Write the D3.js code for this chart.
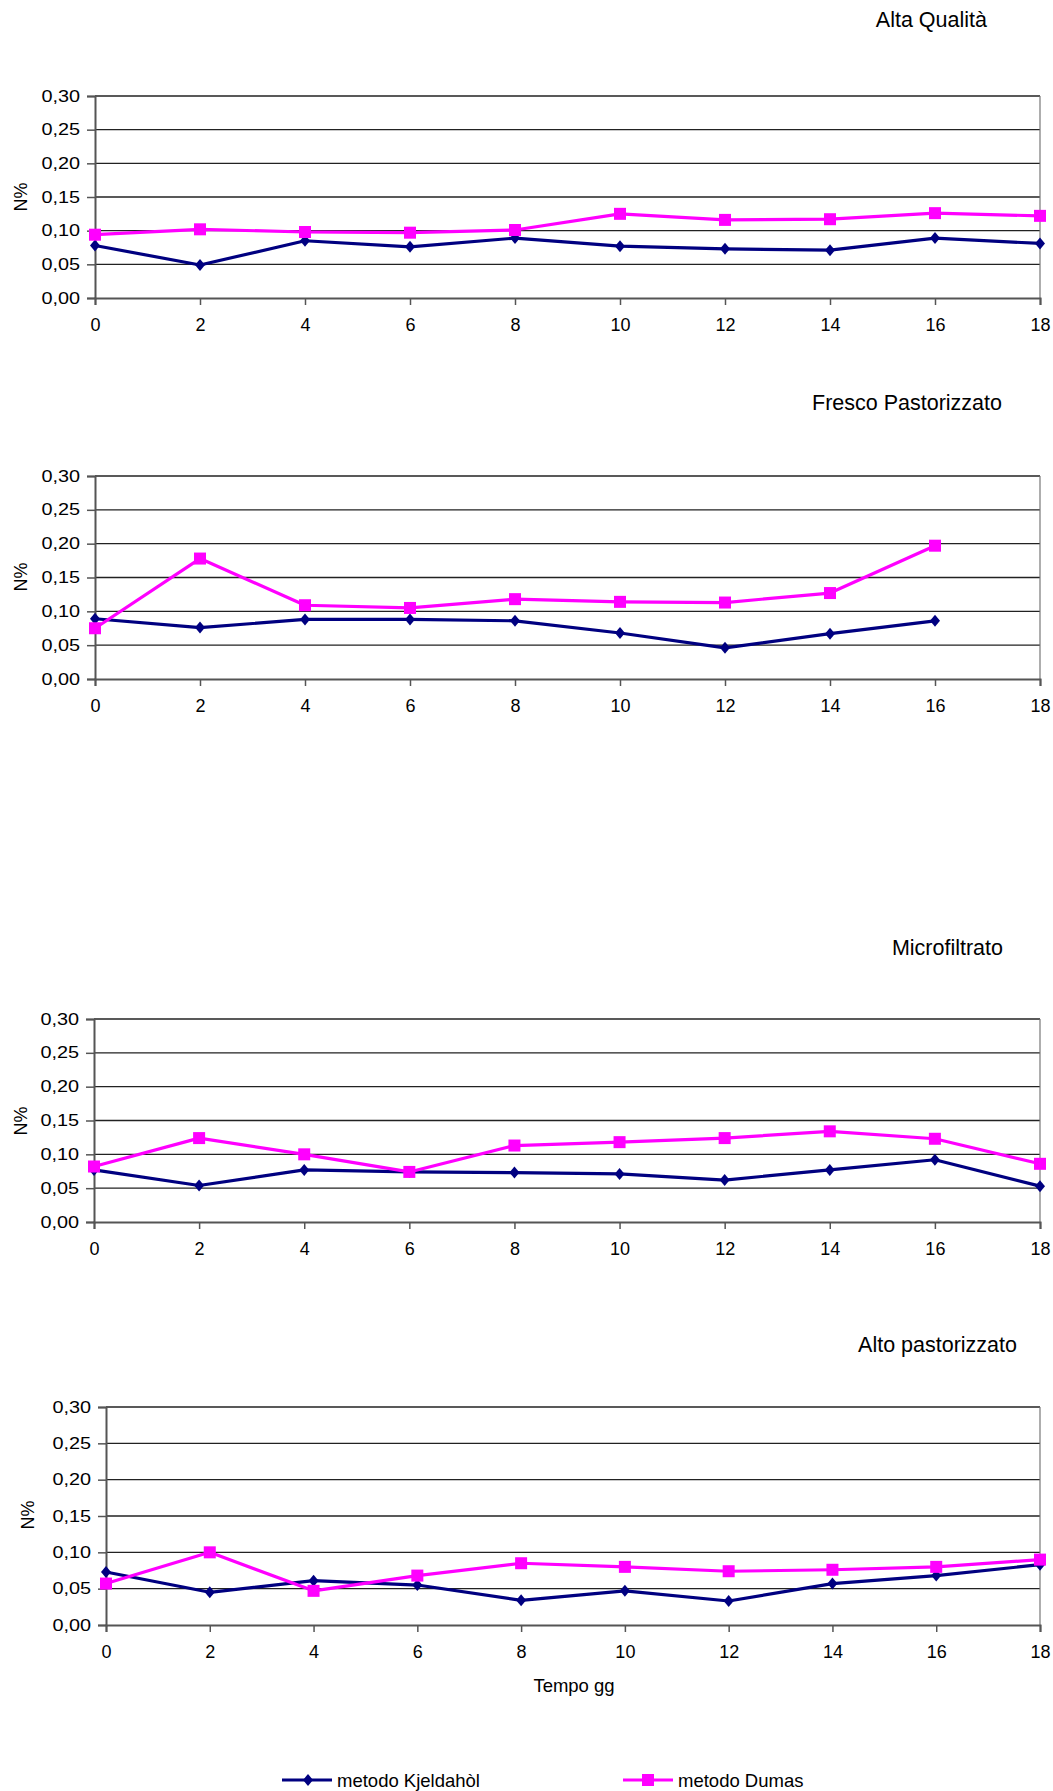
<!DOCTYPE html>
<html>
<head>
<meta charset="utf-8">
<script src="https://cdn.jsdelivr.net/npm/d3@7"></script>
<style>
  html, body { margin: 0; padding: 0; background: #fff; }
  svg { display: block; font-family: "Liberation Sans", Arial, sans-serif; }
</style>
</head>
<body>
<svg id="chart" width="1053" height="1791"></svg>
<script>
// Sampling days (Tempo gg)
const days = [0, 2, 4, 6, 8, 10, 12, 14, 16, 18];
const yTicks = [0, 0.05, 0.10, 0.15, 0.20, 0.25, 0.30];
const xTicks = [0, 2, 4, 6, 8, 10, 12, 14, 16, 18];

// Panel titles (milk types)
const titles = ["Alta Qualità", "Fresco Pastorizzato", "Microfiltrato", "Alto pastorizzato"];

// N% by Kjeldahl method, one array per milk type (null = not measured)
const kjeldahlAlta      = [0.078, 0.049, 0.085, 0.076, 0.089, 0.077, 0.073, 0.071, 0.089, 0.081];
const kjeldahlFresco    = [0.089, 0.076, 0.088, 0.088, 0.086, 0.068, 0.046, 0.067, 0.086, null];
const kjeldahlMicro     = [0.077, 0.054, 0.077, 0.074, 0.073, 0.071, 0.062, 0.077, 0.092, 0.053];
const kjeldahlAltoPast  = [0.073, 0.045, 0.061, 0.055, 0.034, 0.047, 0.033, 0.057, 0.068, 0.083];

// N% by Dumas method
const dumasAlta     = [0.094, 0.102, 0.098, 0.097, 0.101, 0.125, 0.116, 0.117, 0.126, 0.122];
const dumasFresco   = [0.075, 0.178, 0.109, 0.105, 0.118, 0.114, 0.113, 0.127, 0.197, null];
const dumasMicro    = [0.082, 0.124, 0.100, 0.074, 0.113, 0.118, 0.124, 0.134, 0.123, 0.086];
const dumasAltoPast = [0.057, 0.100, 0.047, 0.068, 0.085, 0.080, 0.074, 0.076, 0.080, 0.090];

const seriesNames = ["metodo Kjeldahòl", "metodo Dumas"];
const kjeldahlSets = [kjeldahlAlta, kjeldahlFresco, kjeldahlMicro, kjeldahlAltoPast];
const dumasSets = [dumasAlta, dumasFresco, dumasMicro, dumasAltoPast];

// Panel geometry
const layout = [
  { left: 95,  right: 1040, top: 96,   bottom: 298, titleRight: 987,  titleY: 27,   labelY: 197 },
  { left: 95,  right: 1040, top: 476,  bottom: 679, titleRight: 1002, titleY: 410,  labelY: 577 },
  { left: 94,  right: 1040, top: 1019, bottom: 1222, titleRight: 1003, titleY: 955, labelY: 1121 },
  { left: 106, right: 1040, top: 1407, bottom: 1625, titleRight: 1017, titleY: 1352, labelY: 1515 }
];

const navy = "#000080";
const magenta = "#FF00FF";
const fmt = v => d3.format(".2f")(v).replace(".", ",");

const svg = d3.select("#chart");

function diamondPath(x, y) {
  return `M${x},${y - 6}L${x + 5},${y}L${x},${y + 6}L${x - 5},${y}Z`;
}

layout.forEach((p, i) => {
  const g = svg.append("g");
  const x = d3.scaleLinear().domain([0, 18]).range([p.left, p.right]);
  const y = d3.scaleLinear().domain([0, 0.30]).range([p.bottom, p.top]);

  // horizontal gridlines
  g.append("g").selectAll("line")
    .data(yTicks.filter(t => t > 0))
    .join("line")
    .attr("x1", p.left).attr("x2", p.right)
    .attr("y1", d => y(d)).attr("y2", d => y(d))
    .attr("stroke", "#222").attr("stroke-width", 1.3);

  // right frame edge
  g.append("line")
    .attr("x1", p.right).attr("x2", p.right)
    .attr("y1", p.top).attr("y2", p.bottom)
    .attr("stroke", "#777").attr("stroke-width", 1.2);

  // y axis
  const yAxis = g.append("g")
    .attr("transform", `translate(${p.left},0)`)
    .call(d3.axisLeft(y).tickValues(yTicks).tickFormat(fmt).tickSize(8).tickPadding(7));
  yAxis.select(".domain").attr("stroke", "#555").attr("stroke-width", 2);
  yAxis.selectAll(".tick line").attr("stroke", "#555").attr("stroke-width", 1.5);
  yAxis.selectAll("text")
    .attr("fill", "#000")
    .style("font-size", "16px")
    .style("font-family", "'Liberation Sans', Arial, sans-serif")
    .each(function () {
      const len = this.getComputedTextLength();
      d3.select(this).attr("textLength", len * 1.24).attr("lengthAdjust", "spacingAndGlyphs");
    });

  // x axis
  const xAxis = g.append("g")
    .attr("transform", `translate(0,${p.bottom})`)
    .call(d3.axisBottom(x).tickValues(xTicks).tickFormat(d3.format("d")).tickSize(7).tickPadding(13));
  xAxis.select(".domain").attr("stroke", "#555").attr("stroke-width", 2);
  xAxis.selectAll(".tick line").attr("stroke", "#555").attr("stroke-width", 1.5);
  xAxis.selectAll("text")
    .attr("fill", "#000")
    .style("font-size", "18px")
    .style("font-family", "'Liberation Sans', Arial, sans-serif");

  // y axis label
  g.append("text")
    .attr("transform", `translate(${i === 3 ? 34 : 27},${p.labelY}) rotate(-90)`)
    .attr("text-anchor", "middle")
    .style("font-size", "18px")
    .text("N%");

  // panel title
  g.append("text")
    .attr("x", p.titleRight).attr("y", p.titleY)
    .attr("text-anchor", "end")
    .style("font-size", "21.5px")
    .text(titles[i]);

  const line = d3.line()
    .defined(d => d[1] != null)
    .x(d => x(d[0])).y(d => y(d[1]));

  // Kjeldahl series
  const kData = days.map((d, j) => [d, kjeldahlSets[i][j]]);
  g.append("path")
    .attr("d", line(kData))
    .attr("fill", "none").attr("stroke", navy).attr("stroke-width", 3.2)
    .attr("stroke-linejoin", "round");
  g.append("g").selectAll("path")
    .data(kData.filter(d => d[1] != null))
    .join("path")
    .attr("d", d => diamondPath(x(d[0]), y(d[1])))
    .attr("fill", navy);

  // Dumas series
  const dData = days.map((d, j) => [d, dumasSets[i][j]]);
  g.append("path")
    .attr("d", line(dData))
    .attr("fill", "none").attr("stroke", magenta).attr("stroke-width", 3.2)
    .attr("stroke-linejoin", "round");
  g.append("g").selectAll("rect")
    .data(dData.filter(d => d[1] != null))
    .join("rect")
    .attr("x", d => x(d[0]) - 6).attr("y", d => y(d[1]) - 6)
    .attr("width", 12).attr("height", 12)
    .attr("fill", magenta);
});

// x axis title under the last panel
svg.append("text")
  .attr("x", 574).attr("y", 1692)
  .attr("text-anchor", "middle")
  .style("font-size", "18.5px")
  .text("Tempo gg");

// legend
const legendY = 1780;
const legendItems = [
  { name: seriesNames[0], color: navy, x0: 282, kind: "diamond" },
  { name: seriesNames[1], color: magenta, x0: 623, kind: "square" }
];
legendItems.forEach(item => {
  const lg = svg.append("g");
  lg.append("line")
    .attr("x1", item.x0).attr("x2", item.x0 + 50)
    .attr("y1", legendY).attr("y2", legendY)
    .attr("stroke", item.color).attr("stroke-width", 3);
  if (item.kind === "diamond") {
    lg.append("path").attr("d", diamondPath(item.x0 + 26, legendY)).attr("fill", item.color);
  } else {
    lg.append("rect")
      .attr("x", item.x0 + 25 - 6).attr("y", legendY - 6)
      .attr("width", 12).attr("height", 12).attr("fill", item.color);
  }
  lg.append("text")
    .attr("x", item.x0 + 55).attr("y", legendY + 6.5)
    .style("font-size", "18.5px")
    .text(item.name);
});
</script>
</body>
</html>
